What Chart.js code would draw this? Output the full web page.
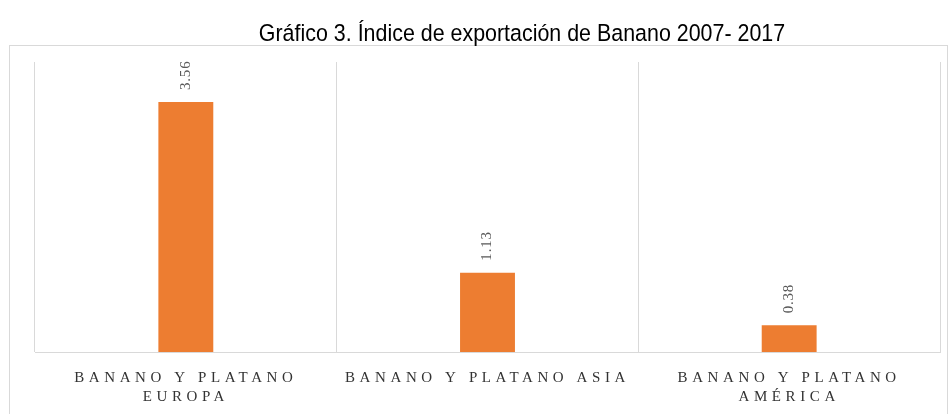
<!DOCTYPE html>
<html>
<head>
<meta charset="utf-8">
<script src="https://cdn.jsdelivr.net/npm/chart.js@4.4.1/dist/chart.umd.min.js"></script>
<style>
  html, body { margin: 0; padding: 0; background: #ffffff; }
  #wrap { width: 952px; height: 414px; position: relative; }
</style>
</head>
<body>
<div id="wrap"><canvas id="c" width="952" height="414"></canvas></div>
<script>
const categories = [
  ['BANANO Y PLATANO', 'EUROPA'],
  'BANANO Y PLATANO ASIA',
  ['BANANO Y PLATANO', 'AMÉRICA']
];
const exportIndex = [3.56, 1.13, 0.38];
const valueLabels = ['3.56', '1.13', '0.38'];
const chartTitle = 'Gráfico 3. Índice de exportación de Banano 2007- 2017';

class SpacedCategory extends Chart.CategoryScale {
  drawLabels(chartArea) {
    const ctx = this.ctx;
    ctx.save();
    ctx.letterSpacing = '4.6px';
    super.drawLabels(chartArea);
    ctx.restore();
  }
}
SpacedCategory.id = 'spacedCategory';
SpacedCategory.defaults = Chart.CategoryScale.defaults;
Chart.register(SpacedCategory);

const frame = {
  id: 'frame',
  beforeDraw(chart) {
    const ctx = chart.ctx;
    ctx.save();
    ctx.fillStyle = '#ffffff';
    ctx.fillRect(0, 0, chart.width, chart.height);
    ctx.strokeStyle = '#d9d9d9';
    ctx.lineWidth = 1;
    ctx.strokeRect(9.5, 45.5, 938, 400);
    // title
    ctx.fillStyle = '#000000';
    ctx.font = '21px "Liberation Sans", Arial, sans-serif';
    ctx.textAlign = 'center';
    ctx.textBaseline = 'alphabetic';
    ctx.translate(522, 41);
    ctx.scale(1.02, 1.12);
    ctx.fillText(chartTitle, 0, 0);
    ctx.restore();
  }
};

const barValues = {
  id: 'barValues',
  afterDatasetsDraw(chart) {
    const ctx = chart.ctx;
    const meta = chart.getDatasetMeta(0);
    ctx.save();
    ctx.font = '15px "Liberation Serif", "DejaVu Serif", serif';
    ctx.fillStyle = '#595959';
    ctx.textAlign = 'left';
    ctx.textBaseline = 'middle';
    ctx.letterSpacing = '0.8px';
    meta.data.forEach((bar, i) => {
      ctx.save();
      ctx.translate(bar.x, bar.y - 12);
      ctx.rotate(-Math.PI / 2);
      ctx.fillText(valueLabels[i], 0, 0);
      ctx.restore();
    });
    ctx.restore();
  }
};

new Chart(document.getElementById('c'), {
  type: 'bar',
  data: {
    labels: categories,
    datasets: [{
      data: exportIndex,
      backgroundColor: '#ED7D31',
      borderWidth: 0,
      categoryPercentage: 1,
      barPercentage: 0.182
    }]
  },
  options: {
    responsive: false,
    animation: false,
    layout: { padding: { left: 35, right: 12, top: 62, bottom: 0 } },
    plugins: {
      legend: { display: false },
      tooltip: { enabled: false },
      title: { display: false }
    },
    scales: {
      x: {
        type: 'spacedCategory',
        offset: true,
        grid: { display: true, offset: true, color: '#d9d9d9', lineWidth: 1, drawTicks: false },
        border: { display: true, color: '#d9d9d9', width: 1 },
        ticks: {
          color: '#333333',
          padding: 16,
          maxRotation: 0,
          autoSkip: false,
          font: { family: '"Liberation Serif", "DejaVu Serif", serif', size: 15, lineHeight: 1.3 }
        },
        afterFit(scale) { scale.height = 62; }
      },
      y: {
        display: false,
        min: 0,
        max: 4.13
      }
    }
  },
  plugins: [frame, barValues]
});
</script>
</body>
</html>
